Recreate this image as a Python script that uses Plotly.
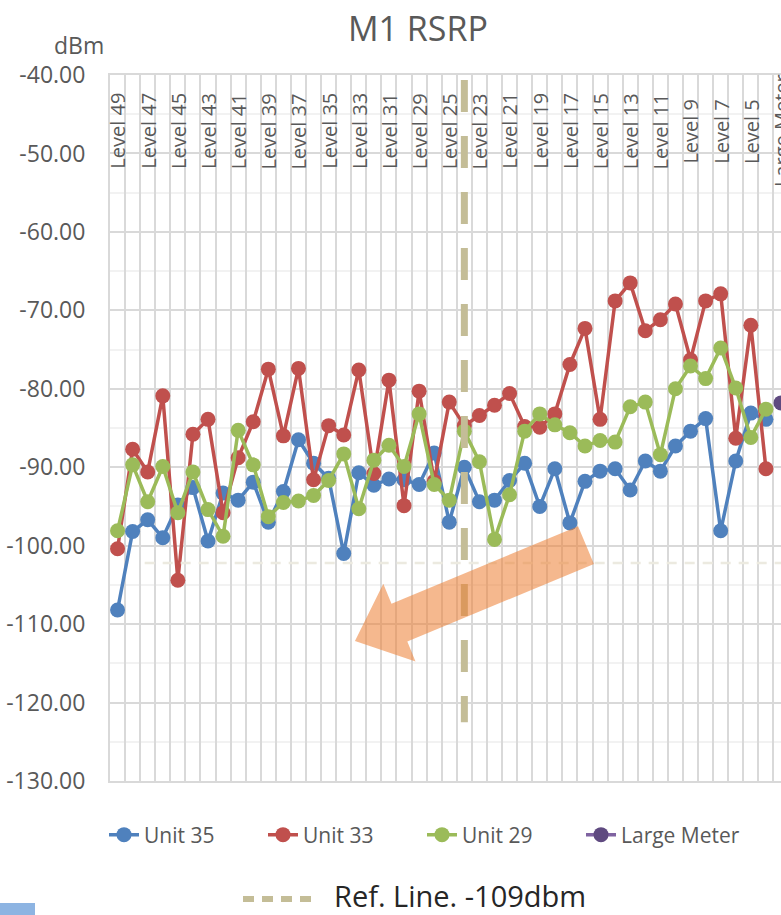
import plotly.graph_objects as go

# ---------------- data ----------------
categories = [
    "Level 49", "Level 48", "Level 47", "Level 46", "Level 45", "Level 44", "Level 43",
    "Level 42", "Level 41", "Level 40", "Level 39", "Level 38", "Level 37", "Level 36",
    "Level 35", "Level 34", "Level 33", "Level 32", "Level 31", "Level 30", "Level 29",
    "Level 27", "Level 25", "Level 24", "Level 23", "Level 22", "Level 21", "Level 20",
    "Level 19", "Level 18", "Level 17", "Level 16", "Level 15", "Level 14", "Level 13",
    "Level 12", "Level 11", "Level 10", "Level 9", "Level 8", "Level 7", "Level 6",
    "Level 5", "Level 4", "Large Meter",
]
shown_labels = categories[::2]

unit35 = [-108.2, -98.2, -96.7, -99.0, -94.8, -92.6, -99.4, -93.3, -94.2, -91.9,
          -97.0, -93.1, -86.5, -89.5, -91.4, -101.0, -90.7, -92.3, -91.5, -91.6,
          -92.2, -88.2, -97.0, -90.0, -94.4, -94.2, -91.7, -89.5, -95.0, -90.2,
          -97.1, -91.8, -90.5, -90.2, -92.9, -89.2, -90.5, -87.3, -85.4, -83.8,
          -98.1, -89.2, -83.1, -83.9]
unit33 = [-100.4, -87.7, -90.6, -80.9, -104.4, -85.8, -83.9, -95.8, -88.8, -84.2,
          -77.5, -86.0, -77.4, -91.6, -84.7, -85.9, -77.6, -90.8, -78.9, -94.9,
          -80.3, -91.8, -81.7, -84.7, -83.4, -82.1, -80.6, -84.8, -84.9, -83.2,
          -76.9, -72.3, -83.9, -68.8, -66.5, -72.6, -71.2, -69.2, -76.3, -68.8,
          -67.9, -86.3, -71.9, -90.2]
unit29 = [-98.1, -89.7, -94.4, -89.9, -95.8, -90.6, -95.4, -98.8, -85.3, -89.7,
          -96.3, -94.5, -94.3, -93.6, -91.7, -88.3, -95.3, -89.1, -87.2, -89.9,
          -83.2, -92.2, -94.2, -85.4, -89.3, -99.2, -93.5, -85.4, -83.2, -84.6,
          -85.6, -87.3, -86.6, -86.8, -82.3, -81.7, -88.4, -80.0, -77.1, -78.7,
          -74.8, -79.9, -86.2, -82.6]
large_meter_cat = ["Large Meter"]
large_meter = [-81.8]

y_ticks = [-40, -50, -60, -70, -80, -90, -100, -110, -120, -130]
y_tick_labels = ["-40.00", "-50.00", "-60.00", "-70.00", "-80.00", "-90.00",
                 "-100.00", "-110.00", "-120.00", "-130.00"]
y_minor = [-45, -55, -65, -75, -85, -95, -105, -115, -125]

ref_line_value = -102.2
ref_line_start = 1.8
marker_category_index = 23
ref_legend_text = "Ref. Line. -109dbm"

# ---------------- figure ----------------
W, H = 781, 915
L, R, T, B = 110, 0, 75, 134
PW, PH = W - L - R, H - T - B


def px(x):
    return (x - L) / PW


def py(y):
    return (H - B - y) / PH


FONT = "Open Sans"
GREY = "#595959"

fig = go.Figure()
series = [
    ("Unit 35", categories[:len(unit35)], unit35, "#4F81BD", "#4F81BD"),
    ("Unit 33", categories[:len(unit33)], unit33, "#C0504D", "#C0504D"),
    ("Unit 29", categories[:len(unit29)], unit29, "#9BBB59", "#9BBB59"),
    ("Large Meter", large_meter_cat, large_meter, "#7F63A1", "#5F4A80"),
]
for name, xs, ys, lc, mc in series:
    fig.add_trace(go.Scatter(
        x=xs, y=ys, name=name, mode="lines+markers",
        line=dict(color=lc, width=3.5),
        marker=dict(size=15, color=mc),
    ))

# category labels inside the top of the plot
for lab in shown_labels:
    fig.add_annotation(
        x=lab, y=-47.15, xref="x", yref="y", text=lab, textangle=-90,
        showarrow=False, xanchor="center", yanchor="middle",
        font=dict(family=FONT, size=20, color=GREY),
    )

shapes = []
# faint horizontal reference line
shapes.append(dict(type="line", xref="x", yref="y", x0=ref_line_start, x1=44.6,
                   y0=ref_line_value, y1=ref_line_value,
                   line=dict(color="#ECEAE0", width=2.5, dash="10px,8px"), layer="above"))
# thick dashed vertical marker
shapes.append(dict(type="line", xref="x", yref="y", x0=marker_category_index,
                   x1=marker_category_index, y0=-40.65, y1=-122.5,
                   line=dict(color="#C4BD97", width=7, dash="32px,24px"), layer="above"))
# orange arrow (decoration)
pts = [(578.1, 526.1), (391.5, 603.7), (383.3, 583.8), (355.0, 641.0),
       (415.5, 661.4), (407.3, 641.5), (593.9, 563.9)]
path = "M " + " L ".join("%.4f %.4f" % (px(a), py(b)) for a, b in pts) + " Z"
shapes.append(dict(type="path", xref="paper", yref="paper", path=path,
                   fillcolor="rgba(237,125,49,0.55)", line=dict(width=0), layer="above"))
# ref-line legend symbol
shapes.append(dict(type="line", xref="paper", yref="paper", x0=px(243), x1=px(316),
                   y0=py(899), y1=py(899),
                   line=dict(color="#C4BD97", width=6, dash="11px,8px")))
# small blue block at bottom-left
shapes.append(dict(type="rect", xref="paper", yref="paper", x0=px(0), x1=px(35),
                   y0=py(903), y1=py(915), fillcolor="#8DB4E2", line=dict(width=0)))
fig.update_layout(shapes=shapes)

fig.add_annotation(x=px(332), y=py(895), xref="paper", yref="paper", text=ref_legend_text,
                   showarrow=False, xanchor="left", yanchor="middle",
                   font=dict(family=FONT, size=29, color="#262626"))
fig.add_annotation(x=px(52), y=py(45), xref="paper", yref="paper", text="dBm",
                   showarrow=False, xanchor="left", yanchor="middle",
                   font=dict(family=FONT, size=23, color=GREY))
fig.add_annotation(x=px(418), y=py(28), xref="paper", yref="paper", text="M1 RSRP",
                   showarrow=False, xanchor="center", yanchor="middle",
                   font=dict(family=FONT, size=34, color=GREY))

fig.update_layout(
    width=W, height=H,
    margin=dict(l=L, r=R, t=T, b=B, pad=0),
    paper_bgcolor="white", plot_bgcolor="white",
    font=dict(family=FONT, color=GREY),
    showlegend=True,
    legend=dict(orientation="h", xref="container", yref="container",
                x=104 / W, y=1 - 835 / H, xanchor="left", yanchor="middle",
                font=dict(family=FONT, size=21, color=GREY),
                entrywidth=114, entrywidthmode="pixels", itemwidth=30,
                bgcolor="rgba(0,0,0,0)"),
    xaxis=dict(type="category", categoryorder="array", categoryarray=categories,
               range=[-0.5, 44], tickson="boundaries", tickmode="linear", tick0=0, dtick=1,
               showticklabels=False, ticks="", showgrid=True, gridcolor="#D9D9D9",
               gridwidth=2, showline=True, mirror=True, linecolor="#D9D9D9", linewidth=2,
               zeroline=False),
    yaxis=dict(range=[-130, -40], tickmode="array", tickvals=y_ticks, ticktext=y_tick_labels,
               showgrid=True, gridcolor="#D9D9D9", gridwidth=2, zeroline=False,
               minor=dict(tickmode="array", tickvals=y_minor, showgrid=True,
                          gridcolor="#F2F2F2", gridwidth=2, ticks=""),
               ticks="", ticklabelstandoff=18, showline=True, linecolor="#D9D9D9",
               linewidth=2, tickfont=dict(family=FONT, size=23, color=GREY)),
)

fig.write_html("out.html", config={"displayModeBar": False},
               post_script="document.body.style.margin='0';document.body.style.overflow='hidden';")
